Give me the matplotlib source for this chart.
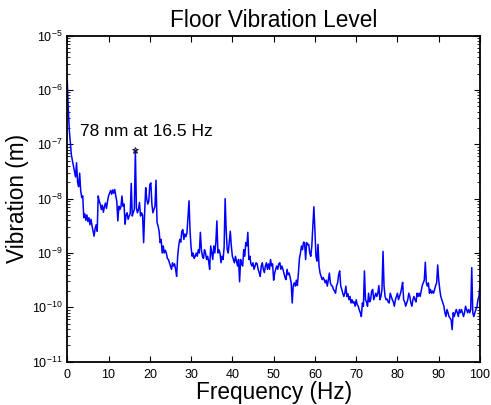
import numpy as np
import matplotlib
matplotlib.use("Agg")
import matplotlib.pyplot as plt
from matplotlib.ticker import LogLocator, FixedLocator

plt.rcParams['font.family'] = ['Liberation Sans', 'DejaVu Sans']
plt.rcParams['mathtext.fontset'] = 'custom'
plt.rcParams['mathtext.rm'] = 'Liberation Sans'
plt.rcParams['mathtext.it'] = 'Liberation Sans:italic'
plt.rcParams['mathtext.bf'] = 'Liberation Sans:bold'

# frequency grid (Hz), 0.25 Hz steps
freq_step = 0.25
freq_max = 100.0

# log10 of vibration amplitude (m), four samples per Hz
vib_log10 = [
    -5.83, -6.35, -6.75, -6.97,
    -7.2, -7.3, -7.4, -7.5,
    -7.6, -7.34, -7.7, -7.78,
    -7.53, -7.85, -7.98, -7.95,
    -8.35, -8.28, -8.4, -8.3,
    -8.42, -8.35, -8.48, -8.38,
    -8.5, -8.6, -8.69, -8.55,
    -8.48, -8.6, -7.95, -8.05,
    -8.1, -8.2, -8.12, -8.25,
    -8.15, -8.08, -8.18, -8.05,
    -7.95, -7.9, -7.85, -7.92,
    -7.84, -7.9, -7.83, -7.95,
    -8.05, -8.41, -8.14, -8.2,
    -8.15, -7.95, -8.14, -8.1,
    -8.47, -8.3, -8.26, -8.38,
    -8.32, -8.28, -7.72, -8.32,
    -8.25, -8.2, -7.108, -8.17,
    -8.26, -8.2, -8.07, -8.32,
    -8.26, -8.3, -8.81, -8.26,
    -7.8, -8.0, -8.1, -8.05,
    -7.74, -7.71, -8.1, -8.26,
    -8.2, -8.14, -7.66, -8.44,
    -8.5, -8.6, -8.81, -8.75,
    -9.0, -8.87, -9.0, -8.95,
    -9.0, -9.1, -9.12, -9.18,
    -9.24, -9.3, -9.18, -9.24,
    -9.2, -9.3, -9.43, -9.06,
    -8.87, -8.75, -8.8, -8.6,
    -8.57, -8.75, -8.65, -8.7,
    -8.63, -8.32, -8.04, -8.6,
    -8.9, -9.06, -9.0, -9.1,
    -9.06, -9.0, -9.06, -8.94,
    -9.0, -8.62, -8.94, -9.06,
    -9.1, -8.94, -9.0, -9.12,
    -9.06, -9.15, -9.3, -8.87,
    -9.0, -9.12, -8.87, -9.0,
    -8.8, -8.41, -9.0, -8.94,
    -9.0, -9.18, -9.06, -9.12,
    -8.9, -8.0, -8.57, -8.94,
    -9.0, -8.8, -8.6, -8.87,
    -9.06, -9.12, -9.18, -9.06,
    -9.15, -9.24, -9.12, -9.53,
    -9.12, -9.2, -9.24, -8.94,
    -9.06, -8.81, -8.87, -8.62,
    -9.12, -9.06, -9.2, -9.24,
    -9.18, -9.3, -9.24, -9.18,
    -9.2, -9.3, -9.36, -9.43,
    -9.24, -9.18, -9.3, -9.36,
    -9.24, -9.18, -9.3, -9.2,
    -9.3, -9.12, -9.24, -9.2,
    -9.5, -9.37, -9.3, -9.24,
    -9.3, -9.2, -9.18, -9.3,
    -9.24, -9.3, -9.37, -9.45,
    -9.49, -9.3, -9.4, -9.37,
    -9.45, -9.55, -9.92, -9.6,
    -9.55, -9.61, -9.5, -9.6,
    -9.37, -9.1, -9.0, -8.87,
    -8.94, -8.8, -8.81, -9.12,
    -8.81, -8.85, -8.84, -9.0,
    -9.06, -8.87, -8.5, -8.15,
    -8.57, -9.06, -9.15, -8.84,
    -9.24, -9.37, -9.43, -9.49,
    -9.45, -9.49, -9.55, -9.5,
    -9.61, -9.5, -9.37, -9.55,
    -9.6, -9.61, -9.67, -9.7,
    -9.74, -9.6, -9.55, -9.4,
    -9.33, -9.6, -9.67, -9.74,
    -9.8, -9.74, -9.61, -9.8,
    -9.75, -9.86, -9.8, -9.92,
    -9.86, -9.92, -9.9, -9.98,
    -9.86, -9.95, -9.98, -10.05,
    -10.1, -10.17, -9.92, -9.98,
    -9.33, -9.86, -9.9, -9.98,
    -9.74, -9.9, -9.86, -9.7,
    -9.67, -9.86, -9.8, -9.74,
    -9.8, -9.74, -9.6, -9.86,
    -9.8, -9.67, -8.97, -9.61,
    -9.8, -9.86, -9.85, -9.9,
    -9.92, -9.74, -9.8, -9.86,
    -9.9, -9.98, -9.86, -9.8,
    -9.74, -9.86, -9.8, -9.74,
    -9.65, -9.54, -9.86, -9.9,
    -9.98, -9.92, -9.86, -9.74,
    -9.8, -9.92, -9.98, -9.86,
    -9.8, -9.86, -9.9, -9.74,
    -9.8, -9.74, -9.8, -9.7,
    -9.6, -9.55, -9.5, -9.17,
    -9.55, -9.61, -9.55, -9.74,
    -9.67, -9.74, -9.7, -9.74,
    -9.67, -9.6, -9.55, -9.22,
    -9.5, -9.67, -9.8, -9.86,
    -9.92, -9.98, -10.1, -10.17,
    -10.04, -10.1, -10.17, -10.2,
    -10.23, -10.41, -10.1, -10.17,
    -10.1, -10.04, -10.1, -10.17,
    -10.04, -10.1, -10.04, -10.1,
    -10.17, -10.1, -9.98, -10.04,
    -10.1, -10.04, -10.1, -10.04,
    -9.27, -10.1, -10.17, -10.1,
    -10.04, -10.0, -9.86, -9.8,
    -9.55,
]

peak_freq = 16.5
peak_amp = 78e-9
peak_label = "78 nm at 16.5 Hz"

x_ticks = [0, 10, 20, 30, 40, 50, 60, 70, 80, 90, 100]

freq = np.arange(len(vib_log10)) * freq_step
vib = 10.0 ** np.array(vib_log10)

fig = plt.figure(figsize=(4.91, 4.05), dpi=100)
ax = fig.add_axes([0.137, 0.107, 0.8406, 0.805])

ax.plot(freq, vib, color='#0000ff', lw=1.1)
ax.plot([peak_freq], [peak_amp], marker='*', color='black', ms=5, mew=0.6,
        markerfacecolor='none', linestyle='none')
ax.text(3.2, 1.75e-7, peak_label, fontsize=12.5, color='black', va='center', ha='left')

ax.set_yscale('log')
ax.set_xlim(0, freq_max)
ax.set_ylim(1e-11, 1e-5)
ax.xaxis.set_major_locator(FixedLocator(x_ticks))
ax.yaxis.set_major_locator(LogLocator(base=10, numticks=10))
ax.yaxis.set_minor_locator(LogLocator(base=10, subs=np.arange(2, 10), numticks=20))

ax.tick_params(which='both', direction='in', top=True, right=True, labelsize=9)
ax.tick_params(which='major', length=4, width=0.8)
ax.tick_params(which='minor', length=2, width=0.6)
ax.tick_params(axis='x', pad=5)
for s in ax.spines.values():
    s.set_linewidth(1.3)

ax.set_title("Floor Vibration Level", fontsize=16.3, pad=6)
ax.set_xlabel("Frequency (Hz)", fontsize=16.3, labelpad=0)
ax.set_ylabel("Vibration (m)", fontsize=16.3, labelpad=2)

fig.savefig("out.png", dpi=100)
